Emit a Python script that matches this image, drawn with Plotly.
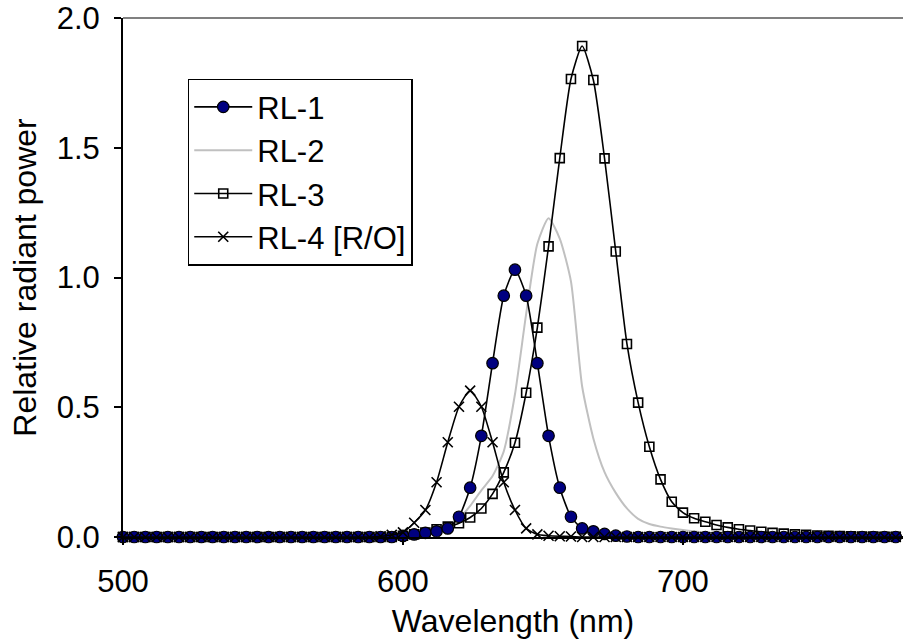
import plotly.graph_objects as go

wavelength = list(range(500, 784, 4))  # 500..780 nm, 4 nm steps

def pad(start_nm, vals):
    """Place a list of values starting at start_nm into the full grid (zeros elsewhere)."""
    out = [0.0] * len(wavelength)
    i0 = wavelength.index(start_nm)
    for k, v in enumerate(vals):
        out[i0 + k] = v
    return out

rl1_vals = [0.004, 0.01, 0.016, 0.022, 0.033, 0.078, 0.19, 0.39, 0.67, 0.93, 1.03,
            0.93, 0.67, 0.39, 0.19, 0.078, 0.033, 0.022, 0.012, 0.005, 0.002]  # from 600
rl2_vals = [0.003, 0.006, 0.012, 0.022, 0.038, 0.07, 0.12, 0.18, 0.235, 0.33, 0.55,
            0.86, 1.13, 1.228, 1.15, 0.985, 0.58, 0.38, 0.25, 0.17, 0.11, 0.07,
            0.05, 0.04, 0.033, 0.027, 0.022, 0.017, 0.013, 0.01, 0.007, 0.005,
            0.003, 0.002]  # from 600
rl3_vals = [0.005, 0.01, 0.017, 0.03, 0.04, 0.053, 0.075, 0.11, 0.166, 0.249, 0.363,
            0.556, 0.807, 1.12, 1.46, 1.765, 1.892, 1.761, 1.459, 1.10, 0.744, 0.518,
            0.348, 0.222, 0.136, 0.094, 0.072, 0.059, 0.046, 0.037, 0.03, 0.025,
            0.02, 0.016, 0.013, 0.01, 0.008, 0.006, 0.005, 0.004, 0.003, 0.002,
            0.002, 0.001, 0.001]  # from 600
rl4_vals = [0.003, 0.008, 0.018, 0.055, 0.104, 0.211, 0.365, 0.502, 0.564, 0.502,
            0.365, 0.211, 0.104, 0.033, 0.01, 0.005, 0.003, 0.002]  # from 592

rl1 = pad(600, rl1_vals)
rl2 = pad(600, rl2_vals)
rl3 = pad(600, rl3_vals)
rl4 = pad(592, rl4_vals)

x_ticks = [500, 600, 700]
y_ticks = [0.0, 0.5, 1.0, 1.5, 2.0]
y_tick_labels = ["0.0", "0.5", "1.0", "1.5", "2.0"]

FONT = "Arial, Liberation Sans, sans-serif"
FS = 31
FT = 32

fig = go.Figure()

fig.add_trace(go.Scatter(
    x=wavelength, y=rl2, name="RL-2", mode="lines", legendrank=2,
    line=dict(color="#C0C0C0", width=2, shape="spline", smoothing=0.6),
    cliponaxis=False))
fig.add_trace(go.Scatter(
    x=wavelength, y=rl3, name="RL-3", mode="lines+markers", legendrank=3,
    line=dict(color="black", width=1.6, shape="spline", smoothing=0.6),
    marker=dict(symbol="square-open", size=9, color="black", line=dict(width=1.6)),
    cliponaxis=False))
fig.add_trace(go.Scatter(
    x=wavelength, y=rl1, name="RL-1", mode="lines+markers", legendrank=1,
    line=dict(color="black", width=1.6, shape="spline", smoothing=0.6),
    marker=dict(symbol="circle", size=11.5, color="#000080", line=dict(color="black", width=1.2)),
    cliponaxis=False))
fig.add_trace(go.Scatter(
    x=wavelength, y=rl4, name="RL-4 [R/O]", mode="lines+markers", legendrank=4,
    line=dict(color="black", width=1.6, shape="spline", smoothing=0.6),
    marker=dict(symbol="x-thin-open", size=10, color="black", line=dict(color="black", width=1.6)),
    cliponaxis=False))

fig.update_layout(
    width=903, height=639,
    margin=dict(l=123, r=0, t=18, b=102),
    paper_bgcolor="white", plot_bgcolor="white",
    font=dict(family=FONT, size=FS, color="black"),
    showlegend=True,
    legend=dict(
        x=0.083, y=0.883, xanchor="left", yanchor="top",
        bgcolor="white", bordercolor="black", borderwidth=1.5,
        font=dict(family=FONT, size=31, color="black"),
        itemwidth=58,
    ),
    xaxis=dict(
        range=[500, 778.6], tickmode="array", tickvals=x_ticks,
        showgrid=False, zeroline=False,
        showline=True, linecolor="black", linewidth=2,
        ticks="outside", ticklen=6, tickwidth=1.5, tickcolor="black",
        tickfont=dict(family=FONT, size=FS), ticklabelstandoff=10,
        title=dict(text="Wavelength (nm)", font=dict(family=FONT, size=FT), standoff=11),
    ),
    yaxis=dict(
        range=[0, 2.0], tickmode="array", tickvals=y_ticks, ticktext=y_tick_labels,
        showgrid=False, zeroline=False,
        showline=True, linecolor="black", linewidth=2,
        ticks="outside", ticklen=7, tickwidth=1.5, tickcolor="black",
        tickfont=dict(family=FONT, size=FS), ticklabelstandoff=8,
        title=dict(text="Relative radiant power", font=dict(family=FONT, size=FT), standoff=10),
    ),
    shapes=[dict(type="line", xref="paper", yref="paper", x0=0, x1=1, y0=1, y1=1,
                 line=dict(color="#808080", width=2), layer="below")],
)

fig.write_html("out.html")
